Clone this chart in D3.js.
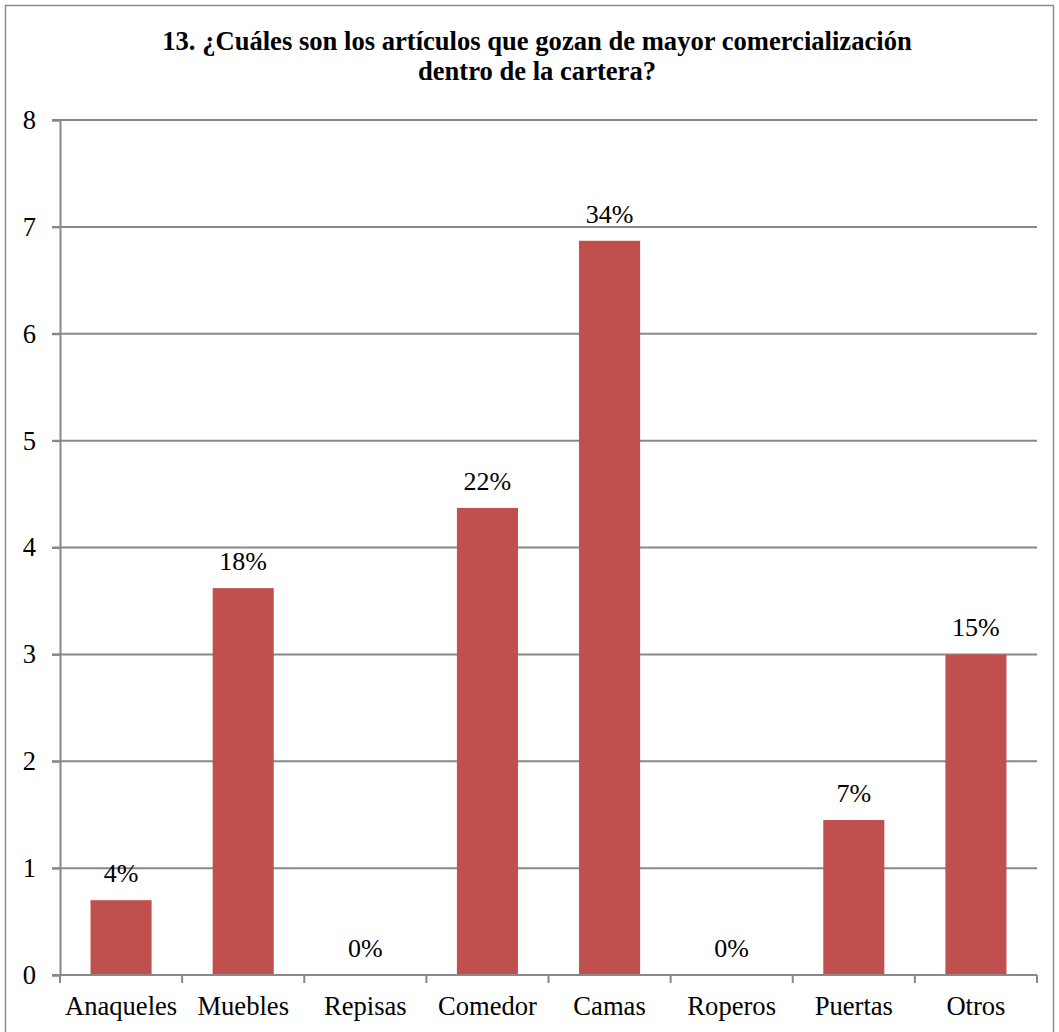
<!DOCTYPE html>
<html>
<head>
<meta charset="utf-8">
<script src="https://cdn.jsdelivr.net/npm/d3@7"></script>
<style>
  html, body { margin: 0; padding: 0; background: #fff; }
  svg { display: block; }
  svg text { font-family: "Liberation Serif", "Times New Roman", Times, serif; fill: #000; }
</style>
</head>
<body>
<svg id="chart" width="1059" height="1032"></svg>
<script>
// Articles by sales volume
const categories = ["Anaqueles", "Muebles", "Repisas", "Comedor", "Camas", "Roperos", "Puertas", "Otros"];
const values = [0.7, 3.62, 0, 4.37, 6.87, 0, 1.45, 3.0];
const valueLabels = ["4%", "18%", "0%", "22%", "34%", "0%", "7%", "15%"];
const yTicks = [0, 1, 2, 3, 4, 5, 6, 7, 8];
const titleLines = [
  "13. ¿Cuáles son los artículos que gozan de mayor comercialización",
  "dentro de la cartera?"
];

const W = 1059, H = 1032;
const margin = { left: 60, right: 22, top: 120, bottom: 57 };
const plotW = W - margin.left - margin.right;
const plotH = H - margin.top - margin.bottom;
const gridColor = "#888888";
const barColor = "#C0504D";
const serif = "'Liberation Serif', 'Times New Roman', Times, serif";

const svg = d3.select("#chart");

// outer frame
svg.append("rect")
  .attr("x", 5.5).attr("y", 5.5)
  .attr("width", 1048).attr("height", 1040)
  .attr("fill", "#fff")
  .attr("stroke", "#8c8c8c").attr("stroke-width", 1.5);

// title
svg.append("g").selectAll("text")
  .data(titleLines)
  .join("text")
  .attr("x", 537)
  .attr("y", (d, i) => 50 + i * 30)
  .attr("text-anchor", "middle")
  .attr("font-family", serif)
  .attr("font-size", 26.6)
  .attr("font-weight", "bold")
  .text(d => d);

const x = d3.scaleBand()
  .domain(categories)
  .range([0, plotW])
  .paddingInner(0.5)
  .paddingOuter(0.25);

const y = d3.scaleLinear()
  .domain([0, 8])
  .range([plotH, 0]);

const g = svg.append("g")
  .attr("transform", `translate(${margin.left},${margin.top})`);

// horizontal gridlines, extending past the axis as outward ticks
g.append("g").selectAll("line")
  .data(yTicks.filter(d => d > 0))
  .join("line")
  .attr("x1", -8).attr("x2", plotW)
  .attr("y1", d => y(d)).attr("y2", d => y(d))
  .attr("stroke", gridColor).attr("stroke-width", 2);

// y axis
const yAxis = g.append("g")
  .call(d3.axisLeft(y).tickValues(yTicks).tickSize(8).tickPadding(16).tickFormat(d3.format("d")));
yAxis.attr("font-family", serif);
yAxis.select(".domain").attr("stroke", gridColor).attr("stroke-width", 2);
yAxis.selectAll(".tick line").attr("stroke", gridColor).attr("stroke-width", 2);
yAxis.selectAll(".tick text")
  .attr("font-size", 26.5)
  .attr("font-family", serif)
  .attr("fill", "#000");

const rows = categories.map((c, i) => ({ c, v: values[i], label: valueLabels[i] }));

// bars
g.append("g").selectAll("rect")
  .data(rows)
  .join("rect")
  .attr("x", d => x(d.c))
  .attr("y", d => y(d.v))
  .attr("width", x.bandwidth())
  .attr("height", d => plotH - y(d.v))
  .attr("fill", barColor);

// value labels
g.append("g").selectAll("text")
  .data(rows)
  .join("text")
  .attr("x", d => x(d.c) + x.bandwidth() / 2)
  .attr("y", d => y(d.v) - 18)
  .attr("text-anchor", "middle")
  .attr("font-family", serif)
  .attr("font-size", 26)
  .text(d => d.label);

// x axis with tick marks at band boundaries
const step = x.step();
const boundaries = d3.range(categories.length + 1).map(i => i * step);
const xAxis = g.append("g").attr("transform", `translate(0,${plotH})`);
xAxis.append("line")
  .attr("x1", -8).attr("x2", plotW)
  .attr("y1", 0).attr("y2", 0)
  .attr("stroke", gridColor).attr("stroke-width", 2);
xAxis.selectAll("line.bt")
  .data(boundaries)
  .join("line")
  .attr("class", "bt")
  .attr("x1", d => d).attr("x2", d => d)
  .attr("y1", 0).attr("y2", 8)
  .attr("stroke", gridColor).attr("stroke-width", 2);
xAxis.selectAll("text")
  .data(categories)
  .join("text")
  .attr("x", d => x(d) + x.bandwidth() / 2)
  .attr("y", 40)
  .attr("text-anchor", "middle")
  .attr("font-family", serif)
  .attr("font-size", 26.6)
  .text(d => d);
</script>
</body>
</html>
